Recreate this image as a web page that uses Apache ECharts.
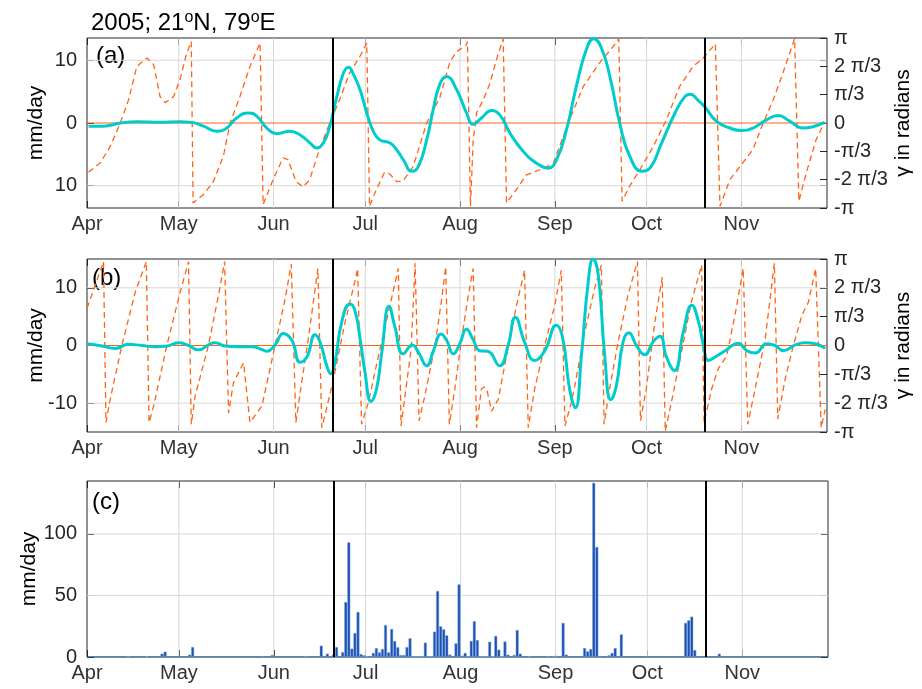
<!DOCTYPE html>
<html>
<head>
<meta charset="utf-8">
<script src="https://cdn.jsdelivr.net/npm/echarts@6/dist/echarts.min.js"></script>
<style>
  html, body { margin: 0; padding: 0; background: #ffffff; }
  #chart { width: 922px; height: 689px; }
</style>
</head>
<body>
<div id="chart"></div>
<script>
// Time axis: days counted from 1 April 2005
const monthDays = [0, 30, 61, 91, 122, 153, 183, 214];
const monthNames = ['Apr', 'May', 'Jun', 'Jul', 'Aug', 'Sep', 'Oct', 'Nov'];
const dayMax = 242;
// Monsoon onset / withdrawal markers
const markerDays = [80.5, 202];

// (a) low-frequency band: amplitude (mm/day) and phase (units of pi)
const ampADays = [0.5, 5.4, 10.9, 16.3, 23.9, 30.4, 34.2, 38.1, 42.4, 45.7, 48.9, 52.8, 55.5, 58.8, 62.1, 66.4, 69.7, 73, 75.1, 77.3, 79.4, 81.7, 83.9, 85.5, 87.1, 89.3, 91.5, 93.6, 95.8, 99.1, 101.3, 103.5, 106.2, 108.3, 111.1, 113.2, 115.4, 117.6, 120.9, 124.1, 126.3, 129, 132.3, 135, 138.3, 142.6, 147, 150.8, 153.5, 156.8, 160, 163.3, 165.7, 168.2, 171, 174.2, 177.5, 181.6, 184.4, 187.9, 192.3, 195.5, 197.3, 199.7, 202, 205.8, 210.2, 214, 217.8, 222.2, 226, 229.8, 234.1, 237.4, 241.2];
const ampAVals = [-0.5, -0.5, 0, 0.2, 0.1, 0.2, 0.1, -0.5, -1.3, -0.8, 0.8, 1.6, 1.1, -0.8, -1.7, -1.3, -1.9, -3.2, -4.0, -3.2, -0.5, 4.2, 8.0, 8.9, 7.8, 5.3, 1.6, -1.3, -2.7, -3.2, -4.3, -5.9, -7.7, -7.0, -2.7, 2.1, 6.2, 7.4, 5.3, 1.6, -0.2, 0.8, 2.0, 1.3, -1.6, -4.5, -6.4, -7.2, -5.9, -1.1, 5.8, 11.7, 13.45, 12, 7.4, 0, -5.3, -7.7, -7.0, -3.2, 1.6, 4.2, 4.6, 3.7, 2.6, 0.3, -0.8, -1.2, -0.8, 0.5, 1.2, 0.3, -0.8, -0.6, 0.1];
const phaseADays = [0.5, 4.3, 7.6, 10.9, 13.6, 16.3, 19.6, 21.8, 23.9, 25.6, 28.3, 30.4, 32.6, 34.1, 34.7, 38.1, 41.3, 44.6, 46.8, 50, 53.3, 56.6, 57.6, 60.8, 64.1, 65.7, 68.4, 70.6, 72.8, 76, 79.4, 82.6, 85.9, 89.2, 91.5, 92.4, 94.6, 97.3, 99, 101.3, 103.4, 106.7, 111.1, 115.4, 118.7, 120.9, 124.1, 124.4, 125.4, 126.3, 127.4, 129.6, 131.8, 133.9, 136.1, 137.2, 140.4, 143.7, 148.1, 152.4, 157.4, 162.3, 167.7, 172.1, 173.9, 175, 177.5, 180.8, 185.2, 189.5, 193.8, 198.2, 201.5, 205.5, 207, 210.2, 214, 217.8, 221.1, 224.4, 227.6, 231.4, 232.8, 235.2, 238.4, 241.2];
const phaseAVals = [-0.58, -0.47, -0.275, 0, 0.274, 0.666, 0.765, 0.686, 0.31, 0.24, 0.31, 0.51, 0.82, 0.96, -0.94, -0.84, -0.69, -0.39, 0, 0.31, 0.666, 0.94, -0.96, -0.67, -0.41, -0.43, -0.69, -0.75, -0.67, -0.31, 0, 0.274, 0.59, 0.78, 0.94, -0.98, -0.785, -0.58, -0.6, -0.69, -0.68, -0.51, 0, 0.3, 0.72, 0.84, 0.92, 0.96, -0.98, -0.2, 0.12, 0.27, 0.47, 0.745, 0.99, -0.94, -0.785, -0.61, -0.55, -0.48, 0, 0.43, 0.71, 0.9, 0.99, -0.92, -0.74, -0.55, -0.275, 0.04, 0.43, 0.666, 0.765, 0.93, -0.98, -0.67, -0.49, -0.31, 0, 0.27, 0.59, 0.99, -0.92, -0.59, -0.2, 0.01];

// (b) high-frequency band: amplitude (mm/day) and phase (units of pi)
const ampBDays = [0, 4.9, 9.2, 13.6, 17.9, 22.3, 25.6, 29.9, 33.2, 36.5, 40.3, 41.9, 45.2, 49.5, 53.9, 57.2, 58.8, 61.5, 64.2, 67, 69.7, 71.9, 74.6, 76.2, 78.4, 79.7, 81.1, 83.3, 86, 87.6, 89.3, 90.9, 92.9, 94.7, 96.4, 98.8, 100.7, 103.4, 106.4, 108.4, 111.1, 113.3, 115.8, 117.6, 119.8, 121.9, 124.1, 126.3, 128.4, 131.1, 134.9, 137.7, 140.1, 143.1, 146.4, 149.7, 153.5, 155.6, 157.8, 159.7, 161.7, 163.9, 165.5, 167.2, 169.3, 171.3, 173.1, 175.3, 177.2, 179.7, 182.4, 185.2, 187.4, 189.5, 192.1, 195, 197.8, 200, 201.6, 203.2, 205.4, 208.7, 213, 215.8, 218.5, 222.3, 225, 227.8, 231.6, 234.9, 238.1, 241.4];
const ampBVals = [0.3, -0.1, -0.5, 0.2, 0, -0.2, -0.15, 0.46, 0, -0.75, 0.3, 0.46, -0.1, -0.2, -0.2, -0.7, -1.0, 0.1, 2.1, 0.9, -2.9, -2.0, 1.86, 0.6, -3.5, -4.9, -2.9, 4.06, 7.2, 6.1, 1.2, -4.6, -9.7, -7.5, -1.2, 6.8, 3.2, -1.45, 0.1, -1.2, -3.5, -0.9, 2.0, 0.9, -1.45, 0.3, 2.8, 1.0, -0.9, -1.0, -3.5, 0, 4.9, 0.6, -2.6, -0.9, 3.5, 1.2, -7.5, -10.8, -1.7, 11.0, 15.0, 12.2, -1.7, -9.4, -7.0, 0.6, 2.2, 0, -1.6, 0.7, 1.6, -2.0, -4.35, 2.3, 7.0, 4.06, 0, -2.6, -2.0, -0.9, 0.4, -0.9, -1.3, 0.3, 0, -0.9, 0.1, 0.46, 0.3, -0.5];
const phaseBDays = [0, 5.4, 6.2, 7.6, 11.4, 15.8, 19.4, 20.3, 21.8, 26.1, 30.5, 33.2, 34.1, 35.4, 39.7, 43, 45, 46.3, 47.9, 51.2, 53.3, 57.2, 61.5, 64.8, 66.8, 68.3, 70.2, 72.4, 75.5, 76.8, 78.4, 80.6, 84.4, 87.6, 88.5, 89.8, 92, 95.3, 98.6, 101.8, 102.7, 104, 106, 107.3, 108.6, 110.5, 113.8, 116, 117.3, 118.5, 120.3, 122.5, 124.7, 126.3, 127.4, 129, 129.9, 130.7, 132.3, 134.5, 137.2, 140.5, 143.1, 144.3, 146.4, 149.7, 153, 155.1, 156.3, 158.4, 159.5, 162.8, 166, 168.2, 169.1, 170.9, 173.7, 176.9, 180, 181, 182.9, 185.7, 188.1, 189.1, 191.1, 194.4, 197.6, 201, 201.8, 204.3, 206.4, 209.2, 211.9, 214.6, 216.1, 218.5, 221.8, 224.8, 225.9, 228.3, 231, 233.8, 235.9, 238.3, 240.1, 241.4];
const phaseBVals = [0.43, 0.97, -0.89, -0.62, 0, 0.62, 0.97, -0.89, -0.7, 0, 0.62, 0.97, -0.91, -0.58, 0, 0.58, 0.97, -0.78, -0.43, -0.2, -0.89, -0.7, 0, 0.54, 0.94, -0.89, -0.43, 0.08, 0.89, -0.95, -0.72, -0.39, 0.27, 0.74, 0.89, -0.91, -0.66, -0.12, 0.39, 0.89, -0.93, -0.58, -0.04, 0.95, -0.87, -0.58, 0, 0.54, 0.91, -0.91, -0.5, 0.08, 0.58, 0.89, -0.95, -0.5, -0.48, -0.5, -0.76, -0.62, -0.12, 0.47, 0.87, -0.95, -0.5, 0, 0.47, 0.87, -0.93, -0.66, -0.47, 0.16, 0.66, 0.93, -0.91, -0.5, 0.04, 0.58, 0.97, -0.87, -0.5, 0.27, 0.79, -0.99, -0.66, -0.08, 0.5, 0.93, -0.89, -0.5, -0.27, -0.12, 0.35, 0.89, -0.91, -0.5, 0.08, 0.95, -0.85, -0.39, 0, 0.35, 0.5, 0.89, -0.95, -0.74];

// (c) daily rainfall (mm/day), day index from 1 April
const rainDays = [13, 19, 24, 25, 33, 34, 57, 60, 71, 76, 78, 80, 81, 83, 84, 85, 86, 87, 88, 89, 90, 91, 93, 94, 95, 96, 97, 98, 99, 100, 101, 102, 103, 104, 105, 106, 107, 108, 109, 110, 111, 112, 113, 114, 115, 116, 117, 118, 120, 121, 122, 123, 124, 125, 126, 127, 128, 129, 130, 131, 132, 133, 134, 135, 136, 137, 139, 140, 141, 144, 150, 152, 153, 155, 156, 162, 163, 164, 165, 166, 167, 170, 171, 172, 174, 195, 196, 197, 198, 206];
const rainVals = [0.4, 0.4, 2.7, 4.3, 1.9, 8.1, 0.8, 1.6, 0.6, 9.2, 2.7, 2, 8.1, 4.0, 44.7, 93.2, 6.8, 19.5, 36.6, 2.4, 1.4, 0.5, 3.3, 7.3, 3.8, 6.5, 26, 3.8, 22.8, 13, 7.9, 1.6, 1.6, 8.1, 15.2, 0.3, 0.3, 0.3, 0.3, 11.7, 0.5, 0.5, 20.6, 53.6, 24.9, 22.5, 17.6, 2, 11.1, 59, 1.1, 3.3, 0.5, 13, 29.1, 13.8, 0.5, 0.5, 0.5, 12.4, 0.5, 17.1, 6, 0.5, 12.6, 1.9, 1.6, 21.9, 2.7, 0.4, 0.4, 0.4, 1, 27.7, 2, 7.3, 4.6, 6.5, 141.5, 89.4, 0.8, 1.4, 3.3, 7.3, 18.4, 27.7, 29.8, 32.8, 5.7, 2.7];

// Axis limits and tick values
const ampALim = 13.55;
const ampBLim = 15;
const rainMax = 143;
const ampATicks = [-10, 0, 10];
const ampBTicks = [-10, 0, 10];
const rainTicks = [0, 50, 100];
const phaseTicks = [-1, -2 / 3, -1 / 3, 0, 1 / 3, 2 / 3, 1];
const phaseTickLabels = ['-π', '-2 π/3', '-π/3', '0', 'π/3', '2 π/3', 'π'];

const FONT = "'Liberation Sans', Arial, Helvetica, sans-serif";
const INK = '#262626';
const GRIDC = '#d8d8d8';
const CYAN = '#00cccc';
const ORANGE = '#ff6414';

const zip = (xs, ys) => xs.map((x, i) => [x, ys[i]]);

const grids = [
  { left: 87, top: 38, width: 741, height: 170 },
  { left: 87, top: 259, width: 741, height: 173 },
  { left: 87, top: 481, width: 741, height: 176 }
].map(g => Object.assign(g, { show: true, borderColor: INK, borderWidth: 1, backgroundColor: 'transparent' }));

function xAxes(gi) {
  const base = {
    type: 'value', gridIndex: gi, min: 0, max: dayMax,
    axisLine: { show: false, onZero: false },
    axisTick: { show: true, inside: true, length: 7, customValues: monthDays, lineStyle: { color: INK, width: 1 } },
    splitLine: { show: false }
  };
  return [
    Object.assign({}, base, {
      position: 'bottom',
      axisLabel: {
        show: true, customValues: monthDays, margin: 6, fontSize: 20, fontFamily: FONT, color: '#333',
        formatter: v => monthNames[monthDays.indexOf(v)]
      }
    }),
    Object.assign({}, base, { position: 'top', axisLabel: { show: false } })
  ];
}

function leftAxis(gi, min, max, ticks, fmt, gap) {
  return {
    type: 'value', gridIndex: gi, position: 'left', min, max,
    name: 'mm/day', nameLocation: 'middle', nameGap: gap, nameRotate: 90, nameMoveOverlap: false,
    nameTextStyle: { fontSize: 21, fontFamily: FONT, color: '#000' },
    axisLine: { show: false, onZero: false },
    axisTick: { show: true, inside: true, length: 7, customValues: ticks, lineStyle: { color: INK } },
    axisLabel: { customValues: ticks, margin: 10, fontSize: 20, fontFamily: FONT, color: INK, formatter: fmt },
    splitLine: { show: false }
  };
}

// Right-hand phase axis; the left axis ticks are echoed on this side too
function phaseAxis(gi, lim, ampTicks) {
  const echo = ampTicks.filter(t => t !== 0).map(t => t / lim);
  return {
    type: 'value', gridIndex: gi, position: 'right', min: -1, max: 1,
    name: 'γ in radians', nameLocation: 'middle', nameGap: 66, nameRotate: 90, nameMoveOverlap: false,
    nameTextStyle: { fontSize: 21, fontFamily: FONT, color: '#000' },
    axisLine: { show: false, onZero: false },
    axisTick: { show: true, inside: true, length: 7, customValues: phaseTicks.concat(echo), lineStyle: { color: INK } },
    axisLabel: {
      customValues: phaseTicks, margin: 7, fontSize: 20, fontFamily: FONT, color: INK,
      formatter: v => phaseTickLabels[Math.round(v * 3) + 3]
    },
    splitLine: { show: false }
  };
}

// Light grid drawn as broken polylines: month verticals and horizontals at the left ticks
function gridSeries(xi, yi, lo, hi, yTicks) {
  const pts = [];
  monthDays.filter(d => d > 0).forEach(d => { pts.push([d, lo], [d, hi], [d, '-']); });
  yTicks.filter(t => t > lo && t < hi && t !== 0).forEach(t => { pts.push([0, t], [dayMax, t], [dayMax, '-']); });
  return {
    type: 'line', xAxisIndex: xi, yAxisIndex: yi, z: 0,
    data: pts, symbol: 'none', silent: true, connectNulls: false,
    lineStyle: { color: GRIDC, width: 1 }
  };
}

const markerLine = {
  silent: true, symbol: 'none', animation: false,
  label: { show: false },
  lineStyle: { color: '#000', width: 2, type: 'solid' },
  data: markerDays.map(d => ({ xAxis: d }))
};

function zeroSeries(xi, yi) {
  return {
    type: 'line', xAxisIndex: xi, yAxisIndex: yi, z: 1,
    data: [[0, 0], [dayMax, 0]], symbol: 'none', silent: true,
    lineStyle: { color: ORANGE, width: 1 }
  };
}

function phaseSeries(xi, yi, days, vals) {
  return {
    type: 'line', xAxisIndex: xi, yAxisIndex: yi, z: 2,
    data: zip(days, vals), symbol: 'none', silent: true,
    lineStyle: { color: ORANGE, width: 1.3, type: [6, 4] }
  };
}

function ampSeries(xi, yi, days, vals) {
  return {
    type: 'line', xAxisIndex: xi, yAxisIndex: yi, z: 3,
    data: zip(days, vals), symbol: 'none', silent: true, smooth: 0.5,
    lineStyle: { color: CYAN, width: 3 },
    markLine: markerLine
  };
}

const option = {
  animation: false,
  backgroundColor: '#ffffff',
  title: {
    left: 86, top: 5,
    text: '2005; 21{sup|o}N, 79{sup|o}E',
    textStyle: {
      fontSize: 24, fontWeight: 'normal', fontFamily: FONT, color: '#000',
      rich: { sup: { fontSize: 16, fontFamily: FONT, color: '#000', verticalAlign: 'top', padding: [0, 0, 10, 0] } }
    }
  },
  grid: grids,
  xAxis: [...xAxes(0), ...xAxes(1), ...xAxes(2)],
  yAxis: [
    leftAxis(0, -ampALim, ampALim, ampATicks, v => String(Math.abs(v)), 40),
    phaseAxis(0, ampALim, ampATicks),
    leftAxis(1, -ampBLim, ampBLim, ampBTicks, v => String(v), 40),
    phaseAxis(1, ampBLim, ampBTicks),
    leftAxis(2, 0, rainMax, rainTicks, v => String(v), 47),
    {
      type: 'value', gridIndex: 2, position: 'right', min: 0, max: rainMax,
      axisLine: { show: false, onZero: false },
      axisTick: { show: true, inside: true, length: 7, customValues: rainTicks, lineStyle: { color: INK } },
      axisLabel: { show: false },
      splitLine: { show: false }
    }
  ],
  series: [
    gridSeries(0, 0, -ampALim, ampALim, ampATicks),
    zeroSeries(0, 0),
    phaseSeries(0, 1, phaseADays, phaseAVals),
    ampSeries(0, 0, ampADays, ampAVals),
    gridSeries(2, 2, -ampBLim, ampBLim, ampBTicks),
    zeroSeries(2, 2),
    phaseSeries(2, 3, phaseBDays, phaseBVals),
    ampSeries(2, 2, ampBDays, ampBVals),
    gridSeries(4, 4, 0, rainMax, rainTicks),
    {
      type: 'line', xAxisIndex: 4, yAxisIndex: 4, z: 1,
      data: [[0, 0], [dayMax, 0]], symbol: 'none', silent: true,
      lineStyle: { color: '#2a7ac8', width: 1.2 }
    },
    {
      type: 'bar', xAxisIndex: 4, yAxisIndex: 4, z: 2,
      data: rainDays.map((d, i) => [d + 0.5, rainVals[i]]),
      barWidth: 3, silent: true,
      itemStyle: { color: '#1f4fb0', borderColor: '#7fb0e4', borderWidth: 0.5 },
      markLine: markerLine
    }
  ],
  graphic: [
    { type: 'text', left: 96, top: 44, style: { text: '(a)', fontSize: 24, fontFamily: FONT, fill: '#000' } },
    { type: 'text', left: 92, top: 266, style: { text: '(b)', fontSize: 24, fontFamily: FONT, fill: '#000' } },
    { type: 'text', left: 92, top: 490, style: { text: '(c)', fontSize: 24, fontFamily: FONT, fill: '#000' } }
  ]
};

const chart = echarts.init(document.getElementById('chart'), null, { renderer: 'canvas' });
chart.setOption(option);
</script>
</body>
</html>
